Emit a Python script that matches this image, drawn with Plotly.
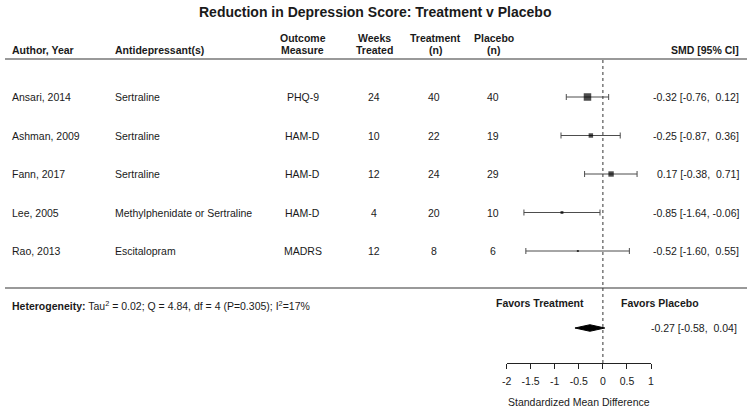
import plotly.graph_objects as go

# ---------------- data ----------------
authors = ["Ansari, 2014", "Ashman, 2009", "Fann, 2017", "Lee, 2005", "Rao, 2013"]
drugs = ["Sertraline", "Sertraline", "Sertraline", "Methylphenidate or Sertraline", "Escitalopram"]
measures = ["PHQ-9", "HAM-D", "HAM-D", "HAM-D", "MADRS"]
weeks = [24, 10, 12, 4, 12]
n_treat = [40, 22, 24, 20, 8]
n_placebo = [40, 19, 29, 10, 6]
smd = [-0.32, -0.25, 0.17, -0.85, -0.52]
ci_low = [-0.76, -0.87, -0.38, -1.64, -1.60]
ci_high = [0.12, 0.36, 0.71, -0.06, 0.55]
weights = [34.3, 20.4, 24.6, 13.2, 7.5]  # % weights (square size)

pooled_smd = -0.27
pooled_low = -0.58
pooled_high = 0.04

tick_vals = [-2, -1.5, -1, -0.5, 0, 0.5, 1]
tick_text = ["-2", "-1.5", "-1", "-0.5", "0", "0.5", "1"]

title_text = "Reduction in Depression Score: Treatment v Placebo"
het_text = "<b>Heterogeneity:</b> Tau<sup>2</sup> = 0.02; Q = 4.84, df = 4 (P=0.305); I<sup>2</sup>=17%"

# ---------------- layout helpers ----------------
W, H = 750, 408
ROW0_PX, ROW_STEP = 97.0, 38.5
FONT = "Liberation Sans, Arial, sans-serif"
TXT = "#1a1a1a"
FS = 10.5
rows = list(range(len(authors)))
summary_row = 6


def py(px):
    return (px - ROW0_PX) / ROW_STEP


def fmt(est, lo, hi):
    s = f"{est:.2f} [{lo:.2f}, {hi:5.2f}]"
    return s.replace(" ", "\u00a0")


annotations = []


def ann(text, xpx, y, anchor="left", bold=False, size=FS):
    if bold:
        text = f"<b>{text}</b>"
    annotations.append(dict(
        text=text, x=xpx / W, xref="paper", y=y, yref="y",
        xanchor=anchor, yanchor="middle", showarrow=False,
        borderpad=0, borderwidth=0,
        font=dict(family=FONT, size=size, color=TXT)))


# title
ann(title_text, 373.5, py(12), anchor="center", bold=True, size=14)

# headers
hdr1, hdr2 = py(37.5), py(49.5)
ann("Author, Year", 7, hdr2, bold=True)
ann("Antidepressant(s)", 111, hdr2, bold=True)
ann("Outcome", 301, hdr1, anchor="center", bold=True)
ann("Measure", 301, hdr2, anchor="center", bold=True)
ann("Weeks", 373, hdr1, anchor="center", bold=True)
ann("Treated", 373, hdr2, anchor="center", bold=True)
ann("Treatment", 435, hdr1, anchor="center", bold=True)
ann("(n)", 435, hdr2, anchor="center", bold=True)
ann("Placebo", 494, hdr1, anchor="center", bold=True)
ann("(n)", 494, hdr2, anchor="center", bold=True)
ann("SMD [95% CI]", 742, hdr2, anchor="right", bold=True)

# rows
for i in rows:
    ann(authors[i], 7, i)
    ann(drugs[i], 111, i)
    ann(measures[i], 301, i, anchor="center")
    ann(str(weeks[i]), 373, i, anchor="center")
    ann(str(n_treat[i]), 434, i, anchor="center")
    ann(str(n_placebo[i]), 493, i, anchor="center")
    ann(fmt(smd[i], ci_low[i], ci_high[i]), 742, i, anchor="right")

# heterogeneity / favors / summary
ann(het_text, 7, py(305))
ann("Favors Treatment", 541, py(303), anchor="center", bold=True)
ann("Favors Placebo", 662, py(303), anchor="center", bold=True)
ann(fmt(pooled_smd, pooled_low, pooled_high), 740, summary_row, anchor="right")

# ---------------- traces ----------------
max_w = max(weights)
sizes = [max(2.0, w / max_w * 7.5) for w in weights]

fig = go.Figure()
# confidence intervals (drawn first)
fig.add_trace(go.Scatter(
    x=smd, y=rows, mode="markers",
    marker=dict(size=1, color="rgba(0,0,0,0)"),
    error_x=dict(type="data", symmetric=False,
                 array=[h - e for h, e in zip(ci_high, smd)],
                 arrayminus=[e - l for e, l in zip(smd, ci_low)],
                 color="#4d4d4d", thickness=1, width=3),
    hoverinfo="skip", showlegend=False, cliponaxis=False))
# study squares on top
fig.add_trace(go.Scatter(
    x=smd, y=rows, mode="markers",
    marker=dict(symbol="square", size=sizes, color="black", line=dict(width=0)),
    hoverinfo="skip", showlegend=False, cliponaxis=False))

dh = 0.085
fig.add_trace(go.Scatter(
    x=[pooled_low, pooled_smd, pooled_high, pooled_smd, pooled_low],
    y=[summary_row, summary_row - dh, summary_row, summary_row + dh, summary_row],
    mode="lines", fill="toself", fillcolor="black",
    line=dict(color="black", width=1), hoverinfo="skip", showlegend=False))

# ---------------- shapes ----------------
shapes = [
    dict(type="line", xref="paper", yref="paper", x0=0, x1=1,
         y0=1 - 59 / H, y1=1 - 59 / H, line=dict(color="#999999", width=2)),
    dict(type="line", xref="paper", yref="paper", x0=0, x1=1,
         y0=1 - 288 / H, y1=1 - 288 / H, line=dict(color="#999999", width=2)),
    dict(type="line", xref="x", yref="paper", x0=0, x1=0,
         y0=1 - 60 / H, y1=1 - 363 / H, line=dict(color="#333333", width=1, dash="dot")),
]

fig.update_layout(
    width=W, height=H,
    margin=dict(l=0, r=0, t=0, b=0),
    paper_bgcolor="white", plot_bgcolor="rgba(0,0,0,0)",
    font=dict(family=FONT, size=FS, color=TXT),
    annotations=annotations, shapes=shapes,
    xaxis=dict(domain=[507 / W, 653 / W], range=[-2, 1], anchor="free",
               position=1 - 363 / H, showline=True, linecolor="#222222", linewidth=1,
               ticks="outside", ticklen=5, tickcolor="#222222", tickwidth=1,
               ticklabelstandoff=3,
               tickvals=tick_vals, ticktext=tick_text, showgrid=False, zeroline=False,
               tickfont=dict(family=FONT, size=FS, color=TXT),
               title=dict(text="Standardized Mean Difference", standoff=14,
                          font=dict(family=FONT, size=FS, color=TXT)),
               fixedrange=True),
    yaxis=dict(domain=[0, 1], range=[(H - ROW0_PX) / ROW_STEP, -ROW0_PX / ROW_STEP],
               visible=False, fixedrange=True),
)

fig.write_html("out.html", config={"displayModeBar": False},
               post_script="document.body.style.margin='0px';document.body.style.overflow='hidden';")
